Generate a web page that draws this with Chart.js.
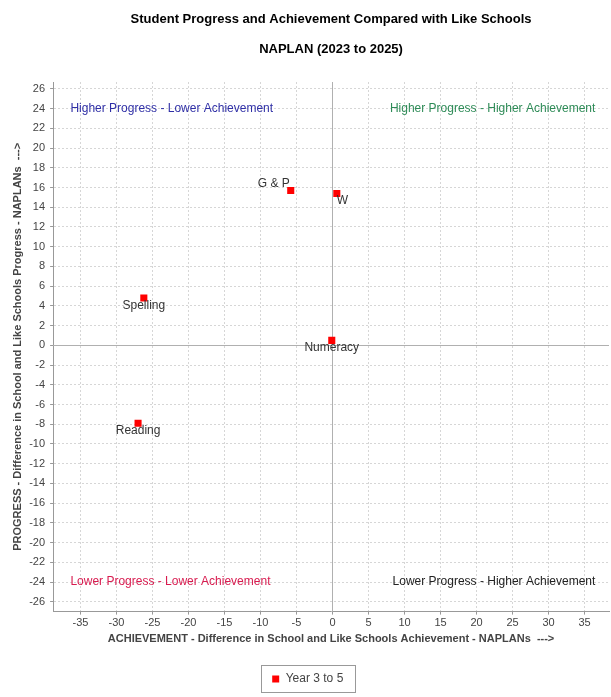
<!DOCTYPE html>
<html>
<head>
<meta charset="utf-8">
<title>Student Progress and Achievement</title>
<script src="https://cdn.jsdelivr.net/npm/chart.js@4.4.1/dist/chart.umd.min.js"></script>
<style>
  body { margin: 0; background: #fff; }
  #wrap { width: 611px; height: 697px; }
</style>
</head>
<body>
<div id="wrap"><canvas id="progressChart"></canvas></div>
<script>
// values
const categories = ['G & P', 'W', 'Spelling', 'Numeracy', 'Reading'];
const achievement = [-5.8, 0.6, -26.2, -0.1, -27.0];
const progress = [15.7, 15.4, 4.8, 0.5, -7.9];
const seriesName = 'Year 3 to 5';

const xTicks = [-35, -30, -25, -20, -15, -10, -5, 0, 5, 10, 15, 20, 25, 30, 35];
const yTicks = [-26, -24, -22, -20, -18, -16, -14, -12, -10, -8, -6, -4, -2,
                0, 2, 4, 6, 8, 10, 12, 14, 16, 18, 20, 22, 24, 26];

const quadrantNames = [
  'Higher Progress - Lower Achievement',
  'Higher Progress - Higher Achievement',
  'Lower Progress - Lower Achievement',
  'Lower Progress - Higher Achievement'
];

const FONT = "'Liberation Sans', Arial, sans-serif";

// where each quadrant caption and point label sits (styling only)
const quadrantStyle = [
  { x: -36.4, y: 24, align: 'left', color: '#2f2fa6' },
  { x: 36.5, y: 24, align: 'right', color: '#2e8b57' },
  { x: -36.4, y: -24, align: 'left', color: '#d81b4f' },
  { x: 36.5, y: -24, align: 'right', color: '#222222' }
];
const labelStyle = {
  'G & P': { align: 'right', dx: -1, dy: -7 },
  'W': { align: 'left', dx: 0, dy: 7 },
  'Spelling': { align: 'center', dx: 0, dy: 7.5 },
  'Numeracy': { align: 'center', dx: 0, dy: 7 },
  'Reading': { align: 'center', dx: 0, dy: 7.5 }
};

const points = categories.map((c, i) => ({ x: achievement[i], y: progress[i] }));

const zeroLines = {
  id: 'zeroLines',
  beforeDatasetsDraw(chart) {
    const { ctx, chartArea, scales } = chart;
    const x0 = Math.round(scales.x.getPixelForValue(0)) + 0.5;
    const y0 = Math.round(scales.y.getPixelForValue(0)) + 0.5;
    ctx.save();
    ctx.strokeStyle = '#b0b0b0';
    ctx.lineWidth = 1;
    ctx.beginPath();
    ctx.moveTo(x0, chartArea.top);
    ctx.lineTo(x0, chartArea.bottom);
    ctx.moveTo(chartArea.left, y0);
    ctx.lineTo(chartArea.right, y0);
    ctx.stroke();
    ctx.restore();
  }
};

const quadrantText = {
  id: 'quadrantText',
  afterDatasetsDraw(chart) {
    const { ctx, scales } = chart;
    ctx.save();
    ctx.font = '12px ' + FONT;
    ctx.textBaseline = 'middle';
    quadrantNames.forEach((name, i) => {
      const s = quadrantStyle[i];
      ctx.fillStyle = s.color;
      ctx.textAlign = s.align;
      ctx.fillText(name, scales.x.getPixelForValue(s.x), scales.y.getPixelForValue(s.y));
    });
    ctx.restore();
  }
};

const pointLabels = {
  id: 'pointLabels',
  afterDatasetsDraw(chart) {
    const { ctx } = chart;
    const meta = chart.getDatasetMeta(0);
    ctx.save();
    ctx.font = '12px ' + FONT;
    ctx.fillStyle = '#333';
    ctx.textBaseline = 'middle';
    meta.data.forEach((pt, i) => {
      const s = labelStyle[categories[i]];
      ctx.textAlign = s.align;
      ctx.fillText(categories[i], pt.x + s.dx, pt.y + s.dy);
    });
    ctx.restore();
  }
};

const legendBox = {
  id: 'legendBox',
  afterDraw(chart) {
    const box = chart.legend.legendHitBoxes[0];
    if (!box) return;
    const { ctx } = chart;
    ctx.save();
    ctx.strokeStyle = '#999';
    ctx.lineWidth = 1;
    ctx.strokeRect(Math.round(box.left - 11) + 0.5, Math.round(box.top - 8) + 0.5,
      Math.round(box.width + 22), Math.round(box.height + 15));
    ctx.restore();
  }
};

const ctx = document.getElementById('progressChart').getContext('2d');
const progressChart = new Chart(ctx, {
  type: 'scatter',
  data: {
    datasets: [{
      label: seriesName,
      data: points,
      backgroundColor: '#ff0000',
      borderColor: '#ff0000',
      borderWidth: 0,
      pointStyle: 'rect',
      pointRadius: 5,
      pointHoverRadius: 5
    }]
  },
  options: {
    responsive: true,
    maintainAspectRatio: false,
    animation: false,
    events: [],
    layout: { autoPadding: false, padding: { left: 6, right: 2, top: 0, bottom: 2 } },
    plugins: {
      title: {
        display: true,
        fullSize: false,
        text: ['Student Progress and Achievement Compared with Like Schools', 'NAPLAN (2023 to 2025)'],
        color: '#000',
        font: { family: FONT, size: 13, weight: 'bold', lineHeight: 30 / 13 },
        padding: { top: 4, bottom: 18 }
      },
      legend: {
        position: 'bottom',
        labels: {
          usePointStyle: true,
          boxWidth: 8,
          boxHeight: 7,
          color: '#444',
          padding: 10,
          font: { family: FONT, size: 12 }
        }
      },
      tooltip: { enabled: false }
    },
    scales: {
      x: {
        type: 'linear',
        min: -38.8,
        max: 38.4,
        afterBuildTicks: scale => { scale.ticks = xTicks.map(v => ({ value: v })); },
        ticks: { color: '#444', padding: 2, font: { family: FONT, size: 11 } },
        grid: { color: '#d6d6d6', drawTicks: true, tickLength: 3, tickColor: '#999' },
        border: { display: true, color: '#999', dash: [2, 2] },
        title: {
          display: true,
          text: 'ACHIEVEMENT - Difference in School and Like Schools Achievement - NAPLANs  --->',
          color: '#444',
          font: { family: FONT, size: 11, weight: 'bold' },
          padding: { top: 1, bottom: 17 }
        }
      },
      y: {
        type: 'linear',
        min: -27,
        max: 26.7,
        afterBuildTicks: scale => { scale.ticks = yTicks.map(v => ({ value: v })); },
        ticks: { color: '#444', padding: 5, font: { family: FONT, size: 11 } },
        grid: { color: '#d6d6d6', drawTicks: true, tickLength: 3, tickColor: '#999' },
        border: { display: true, color: '#999', dash: [2, 2] },
        title: {
          display: true,
          text: 'PROGRESS - Difference in School and Like Schools Progress - NAPLANs  --->',
          color: '#444',
          font: { family: FONT, size: 11, weight: 'bold' },
          padding: { top: 5, bottom: 0 }
        }
      }
    }
  },
  plugins: [zeroLines, quadrantText, pointLabels, legendBox]
});
</script>
</body>
</html>
